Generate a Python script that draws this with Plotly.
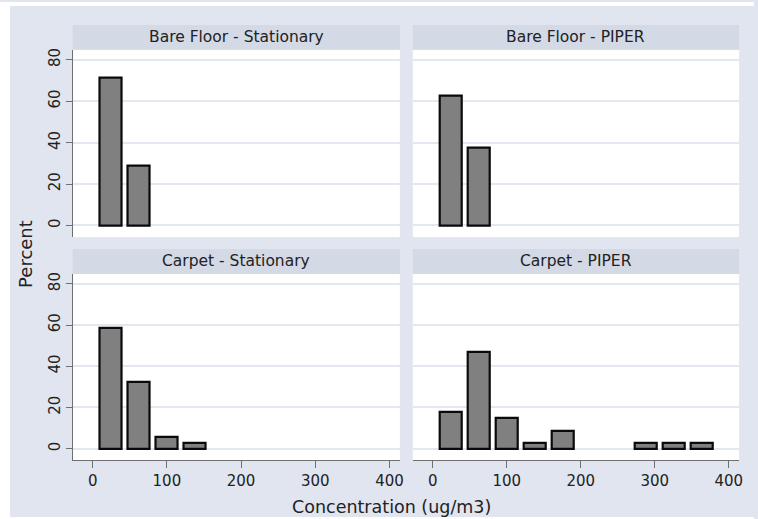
import plotly.graph_objects as go

W, H = 758, 519

# ---- data ----
bin_centers = [24.8, 62.4, 100.0, 137.6, 175.2, 212.8, 250.4, 288.0, 325.6, 363.2]
bare_stationary = [71.43, 28.57, 0, 0, 0, 0, 0, 0, 0, 0]
bare_piper = [62.5, 37.5, 0, 0, 0, 0, 0, 0, 0, 0]
carpet_stationary = [58.82, 32.35, 5.88, 2.94, 0, 0, 0, 0, 0, 0]
carpet_piper = [17.65, 47.06, 14.71, 2.94, 8.82, 0, 0, 2.94, 2.94, 2.94]
panel_titles = ["Bare Floor - Stationary", "Bare Floor - PIPER",
                "Carpet - Stationary", "Carpet - PIPER"]
x_ticks = [0, 100, 200, 300, 400]
y_ticks = [0, 20, 40, 60, 80]

panels = [bare_stationary, bare_piper, carpet_stationary, carpet_piper]

BG = "#E0E5F0"
STRIP = "#D3D9E5"
GRID = "#E3E7EF"
FONT = "DejaVu Sans"
TXT = "#222222"

def fx(px):
    return px / W

def fy(py):
    return 1 - py / H

cols = [(73, 402), (415, 743)]
rows = [(48, 236, 23), (273, 460, 248)]  # plot top, plot bottom, strip top

fig = go.Figure()
layout = dict(
    width=W, height=H, margin=dict(l=0, r=0, t=0, b=0),
    paper_bgcolor=BG, plot_bgcolor="white", showlegend=False,
    font=dict(family=FONT, size=14, color=TXT), bargap=0,
)
shapes = []
annotations = []

# white margins around the outer background
for (x0, y0, x1, y1) in [(0, 0, 10, H), (0, 0, W, 4), (0, 517, W, H)]:
    shapes.append(dict(type="rect", xref="paper", yref="paper", x0=fx(x0), x1=fx(x1),
                       y0=fy(y1), y1=fy(y0), fillcolor="white", line=dict(width=0), layer="below"))

idx = 0
for r, (ptop, pbot, stop) in enumerate(rows):
    for c, (pl, pr) in enumerate(cols):
        idx += 1
        sfx = "" if idx == 1 else str(idx)
        vals = panels[idx - 1]
        xs = [bc for bc, v in zip(bin_centers, vals) if v > 0]
        ys = [v for v in vals if v > 0]
        fig.add_trace(go.Bar(
            x=xs, y=ys, width=29.5,
            marker=dict(color="#808080", line=dict(color="#0a0a0a", width=2.2)),
            xaxis="x" + sfx, yaxis="y" + sfx, hoverinfo="x+y",
        ))
        bottom = (r == 1)
        left = (c == 0)
        layout["xaxis" + sfx] = dict(
            domain=[fx(pl), fx(pr)], anchor="y" + sfx, range=[-27, 414],
            tickvals=x_ticks, showticklabels=bottom, showgrid=False, zeroline=False,
            showline=bottom, linecolor="#6f6f6f", linewidth=1,
            ticks="outside" if bottom else "", ticklen=7, tickcolor="#6f6f6f",
            tickfont=dict(size=15, family=FONT, color=TXT),
        )
        layout["yaxis" + sfx] = dict(
            domain=[fy(pbot), fy(ptop)], anchor="x" + sfx, range=[-5.6, 84.8],
            tickvals=y_ticks, showticklabels=left, showgrid=True, gridcolor=GRID,
            gridwidth=1.5, zeroline=False,
            showline=left, linecolor="#6f6f6f", linewidth=1,
            ticks="outside" if left else "", ticklen=6, tickcolor="#6f6f6f",
            tickangle=-90, tickfont=dict(size=15, family=FONT, color=TXT),
        )
        # strip
        shapes.append(dict(type="rect", xref="paper", yref="paper",
                           x0=fx(pl), x1=fx(pr), y0=fy(ptop), y1=fy(stop),
                           fillcolor=STRIP, line=dict(width=0), layer="below"))
        annotations.append(dict(text=panel_titles[idx - 1], xref="paper", yref="paper",
                                x=fx((pl + pr) / 2), y=fy((stop + ptop) / 2),
                                showarrow=False, xanchor="center", yanchor="middle",
                                font=dict(size=15.5, family=FONT, color=TXT)))

annotations.append(dict(text="Percent", xref="paper", yref="paper", x=fx(25), y=fy(253),
                        textangle=-90, showarrow=False, xanchor="center", yanchor="middle",
                        font=dict(size=18, family=FONT, color=TXT)))
annotations.append(dict(text="Concentration (ug/m3)", xref="paper", yref="paper",
                        x=fx(394), y=fy(507), showarrow=False, xanchor="center",
                        yanchor="middle", font=dict(size=17.5, family=FONT, color=TXT)))

layout["shapes"] = shapes
layout["annotations"] = annotations
fig.update_layout(**layout)
fig.write_html("out.html", config={"displayModeBar": False})

# remove the default page margin so the figure sits at the window origin
with open("out.html", "r", encoding="utf-8") as f:
    html = f.read()
html = html.replace(
    "<head>",
    "<head><style>html,body{margin:0;padding:0;overflow:hidden;background:" + BG + ";}</style>",
    1,
)
with open("out.html", "w", encoding="utf-8") as f:
    f.write(html)
